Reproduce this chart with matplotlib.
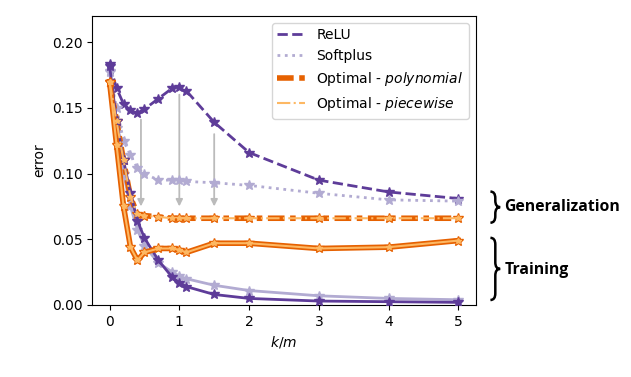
import matplotlib
matplotlib.use('Agg')
import matplotlib.pyplot as plt
from matplotlib.lines import Line2D
from matplotlib.path import Path
from matplotlib.patches import PathPatch

# k/m values
x = [0, 0.1, 0.2, 0.3, 0.4, 0.5, 0.7, 0.9, 1.0, 1.1, 1.5, 2, 3, 4, 5]

# generalization error
relu_gen = [0.183, 0.165, 0.153, 0.148, 0.146, 0.149, 0.157, 0.165, 0.166,
            0.163, 0.139, 0.116, 0.095, 0.086, 0.081]
softplus_gen = [0.177, 0.150, 0.125, 0.114, 0.104, 0.100, 0.095, 0.095, 0.095,
                0.094, 0.093, 0.091, 0.085, 0.080, 0.079]
poly_gen = [0.170, 0.140, 0.110, 0.082, 0.069, 0.068, 0.067, 0.066, 0.066,
            0.066, 0.066, 0.066, 0.066, 0.066, 0.066]
piece_gen = [0.170, 0.140, 0.110, 0.082, 0.069, 0.068, 0.067, 0.066, 0.066,
             0.066, 0.066, 0.066, 0.066, 0.066, 0.066]

# training error
relu_train = [0.182, 0.140, 0.110, 0.085, 0.064, 0.051, 0.034, 0.021, 0.017,
              0.014, 0.008, 0.005, 0.003, 0.0025, 0.002]
softplus_train = [0.178, 0.135, 0.100, 0.075, 0.057, 0.045, 0.032, 0.025,
                  0.022, 0.020, 0.015, 0.011, 0.007, 0.005, 0.004]
poly_train = [0.170, 0.122, 0.075, 0.044, 0.034, 0.040, 0.043, 0.043, 0.042,
              0.040, 0.047, 0.047, 0.043, 0.044, 0.049]
piece_train = [0.170, 0.122, 0.075, 0.044, 0.034, 0.040, 0.043, 0.043, 0.042,
               0.040, 0.047, 0.047, 0.043, 0.044, 0.049]

# gray arrows: ReLU -> optimal generalization
arrow_x = [0.45, 1.0, 1.5]
arrow_top = [0.141, 0.160, 0.130]
arrow_bottom = [0.075, 0.075, 0.075]

c_relu = '#5e3c99'
c_soft = '#b2abd2'
c_poly = '#e66101'
c_piece = '#fdb863'
poly_dash = (3, 1, 1, 1)


def brace(ax, xb, y0, y1, w, h):
    ym = (y0 + y1) / 2.0
    verts = [(xb - w, y1), (xb, y1), (xb, y1 - h),
             (xb, ym + h), (xb, ym), (xb + w, ym),
             (xb, ym), (xb, ym - h),
             (xb, y0 + h), (xb, y0), (xb - w, y0)]
    codes = [Path.MOVETO, Path.CURVE3, Path.CURVE3,
             Path.LINETO, Path.CURVE3, Path.CURVE3,
             Path.CURVE3, Path.CURVE3,
             Path.LINETO, Path.CURVE3, Path.CURVE3]
    patch = PathPatch(Path(verts, codes), fill=False, lw=1.8, color='black',
                      clip_on=False, transform=ax.transData)
    ax.add_patch(patch)


fig = plt.figure(figsize=(6.31, 3.77), dpi=100)
ax = fig.add_axes([0.146, 0.191, 0.608, 0.767])

for xa, yt, yb in zip(arrow_x, arrow_top, arrow_bottom):
    ax.annotate('', xy=(xa, yb), xytext=(xa, yt),
                arrowprops=dict(arrowstyle='-|>', color='#bbbbbb', lw=1.3,
                                mutation_scale=10, shrinkA=0, shrinkB=0),
                zorder=1)

ms = 7
ax.plot(x, relu_gen, '--', color=c_relu, lw=2, marker='*', ms=ms, zorder=3)
ax.plot(x, softplus_gen, ':', color=c_soft, lw=2, marker='*', ms=ms, zorder=3)
ax.plot(x, poly_gen, color=c_poly, lw=4, dashes=poly_dash, marker='*', ms=ms,
        zorder=3)
ax.plot(x, piece_gen, '-.', color=c_piece, lw=1.5, marker='*', ms=4, zorder=4)

ax.plot(x, relu_train, '-', color=c_relu, lw=2, marker='*', ms=ms, zorder=3)
ax.plot(x, softplus_train, '-', color=c_soft, lw=2, marker='*', ms=ms, zorder=2)
ax.plot(x, poly_train, '-', color=c_poly, lw=4, marker='*', ms=ms, zorder=3)
ax.plot(x, piece_train, '-', color=c_piece, lw=1.5, marker='*', ms=4, zorder=4)

ax.set_xlim(-0.25, 5.25)
ax.set_ylim(0, 0.22)
ax.set_xticks([0, 1, 2, 3, 4, 5])
ax.set_yticks([0, 0.05, 0.10, 0.15, 0.20])
ax.set_yticklabels(['%.2f' % v for v in [0, 0.05, 0.10, 0.15, 0.20]])
ax.set_xlabel('$k/m$')
ax.set_ylabel('error')

handles = [
    Line2D([], [], color=c_relu, ls='--', lw=2),
    Line2D([], [], color=c_soft, ls=':', lw=2),
    Line2D([], [], color=c_poly, dashes=poly_dash, lw=4),
    Line2D([], [], color=c_piece, ls='-.', lw=1.5),
]
labels = ['ReLU', 'Softplus', 'Optimal - $\\mathit{polynomial}$',
          'Optimal - $\\mathit{piecewise}$']
ax.legend(handles, labels, loc='upper right')

brace(ax, 5.53, 0.0626, 0.0863, 0.07, 0.005)
brace(ax, 5.53, 0.0038, 0.0511, 0.07, 0.005)
ax.text(5.66, 0.0745, 'Generalization', fontfamily='Open Sans',
        fontweight='bold', fontsize=11.3, va='center', ha='left', clip_on=False)
ax.text(5.66, 0.0265, 'Training', fontfamily='Open Sans',
        fontweight='bold', fontsize=11.3, va='center', ha='left', clip_on=False)

plt.savefig('out.png', dpi=100)
